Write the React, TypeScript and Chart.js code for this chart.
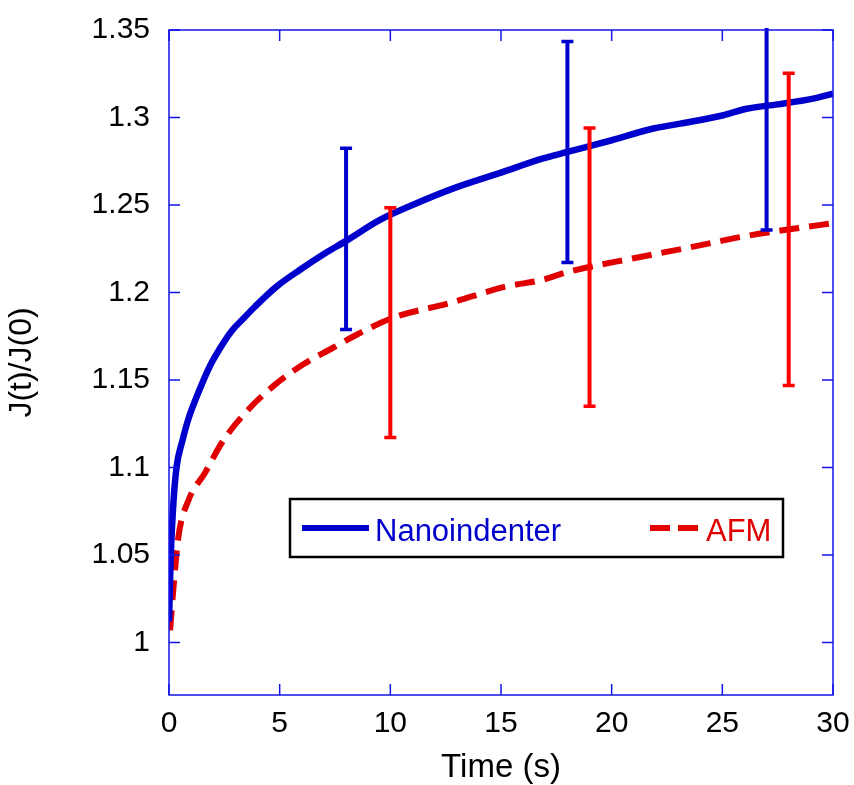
import React, { useEffect, useRef } from 'react';
import { Chart, registerables } from 'chart.js';

Chart.register(...registerables);

// ---- data ----
const nanoTime = [0, 0.08, 0.2, 0.35, 0.6, 0.87, 1.3, 1.85, 2.3, 2.83, 3.35, 3.89, 4.87, 5.92, 7, 8, 9.53, 11, 12.85, 15, 16.9, 18, 20, 21.88, 23.1, 25.05, 26.1, 27.5, 29.1, 30];
const nanoValues = [1.012, 1.05, 1.08, 1.101, 1.115, 1.1275, 1.142, 1.158, 1.168, 1.178, 1.185, 1.192, 1.2035, 1.213, 1.222, 1.2295, 1.2415, 1.25, 1.2595, 1.2685, 1.2766, 1.2803, 1.287, 1.2937, 1.2965, 1.3013, 1.305, 1.3075, 1.3108, 1.3136];

const afmTime = [0.05, 0.2, 0.42, 0.87, 1.63, 2.38, 3.43, 4.71, 6.07, 7.35, 8.5, 10.1, 12.7, 15.25, 16.8, 18.1, 21, 23.7, 25.95, 28.36, 30];
const afmValues = [1.007, 1.031, 1.06, 1.081, 1.097, 1.114, 1.131, 1.1465, 1.159, 1.168, 1.176, 1.1855, 1.194, 1.2035, 1.207, 1.212, 1.2196, 1.2262, 1.232, 1.2367, 1.2396];

const nanoErrTime = [8, 18, 27];
const nanoErrLow = [1.1788, 1.2171, 1.2357];
const nanoErrHigh = [1.2825, 1.3434, 1.376];

const afmErrTime = [10, 19, 28];
const afmErrLow = [1.1171, 1.135, 1.1469];
const afmErrHigh = [1.2485, 1.294, 1.3253];

const xTicks = [0, 5, 10, 15, 20, 25, 30];
const yTicks = [1, 1.05, 1.1, 1.15, 1.2, 1.25, 1.3, 1.35];

const seriesLabels = ['Nanoindenter', 'AFM'];
const xTitle = 'Time (s)';
const yTitle = 'J(t)/J(0)';

// ---- styles ----
const FONT = "'Liberation Sans', Arial, Helvetica, sans-serif";
const BLUE = '#0000CC';
const RED_LINE = '#E00000';
const RED_BAR = '#FF0000';
const FRAME = '#1414E6';

const errorBarPlugin = {
  id: 'errorBars',
  afterDatasetsDraw(chart: any) {
    const { ctx, chartArea, scales } = chart;
    const x = scales.x;
    const y = scales.y;
    ctx.save();
    ctx.beginPath();
    ctx.rect(chartArea.left, chartArea.top - 2, chartArea.right - chartArea.left, chartArea.bottom - chartArea.top + 2);
    ctx.clip();
    const drawSet = (ts: number[], lo: number[], hi: number[], color: string) => {
      ctx.strokeStyle = color;
      ctx.lineCap = 'butt';
      ts.forEach((t, i) => {
        const px = x.getPixelForValue(t);
        const pl = y.getPixelForValue(lo[i]);
        const ph = y.getPixelForValue(hi[i]);
        ctx.lineWidth = 4;
        ctx.beginPath();
        ctx.moveTo(px, pl);
        ctx.lineTo(px, ph);
        ctx.stroke();
        ctx.lineWidth = 3.5;
        ctx.beginPath();
        ctx.moveTo(px - 6, pl);
        ctx.lineTo(px + 6, pl);
        ctx.moveTo(px - 6, ph);
        ctx.lineTo(px + 6, ph);
        ctx.stroke();
      });
    };
    drawSet(nanoErrTime, nanoErrLow, nanoErrHigh, BLUE);
    drawSet(afmErrTime, afmErrLow, afmErrHigh, RED_BAR);
    ctx.restore();
  },
};

const framePlugin = {
  id: 'frame',
  afterDraw(chart: any) {
    const { ctx, chartArea, scales } = chart;
    const x = scales.x;
    const y = scales.y;
    const { left, right, top, bottom } = chartArea;
    const tl = 11;
    ctx.save();
    ctx.strokeStyle = FRAME;
    ctx.lineWidth = 1.5;
    ctx.strokeRect(left, top, right - left, bottom - top);
    ctx.beginPath();
    xTicks.forEach((v) => {
      const px = x.getPixelForValue(v);
      ctx.moveTo(px, bottom);
      ctx.lineTo(px, bottom - tl);
      ctx.moveTo(px, top);
      ctx.lineTo(px, top + tl);
    });
    yTicks.forEach((v) => {
      const py = y.getPixelForValue(v);
      ctx.moveTo(left, py);
      ctx.lineTo(left + tl, py);
      ctx.moveTo(right, py);
      ctx.lineTo(right - tl, py);
    });
    ctx.stroke();

    // legend box
    const lx = left + 121;
    const ly = top + 469;
    const lw = 493;
    const lh = 58;
    ctx.fillStyle = '#FFFFFF';
    ctx.fillRect(lx, ly, lw, lh);
    ctx.strokeStyle = '#000000';
    ctx.lineWidth = 2.5;
    ctx.strokeRect(lx, ly, lw, lh);
    const midY = ly + lh / 2;
    ctx.lineCap = 'butt';
    ctx.strokeStyle = BLUE;
    ctx.lineWidth = 6;
    ctx.beginPath();
    ctx.moveTo(lx + 12, midY);
    ctx.lineTo(lx + 79, midY);
    ctx.stroke();
    ctx.font = `31px ${FONT}`;
    ctx.textBaseline = 'alphabetic';
    ctx.textAlign = 'left';
    ctx.fillStyle = BLUE;
    ctx.fillText(seriesLabels[0], lx + 85, ly + 42);
    ctx.strokeStyle = RED_LINE;
    ctx.setLineDash([20, 8]);
    ctx.beginPath();
    ctx.moveTo(lx + 360, midY);
    ctx.lineTo(lx + 409, midY);
    ctx.stroke();
    ctx.setLineDash([]);
    ctx.fillStyle = RED_LINE;
    ctx.fillText(seriesLabels[1], lx + 416, ly + 42);
    ctx.restore();
  },
};

const zeroPadding = (scale: any) => {
  scale.paddingTop = 0;
  scale.paddingBottom = 0;
  scale.paddingLeft = 0;
  scale.paddingRight = 0;
};

export default function App() {
  const canvasRef = useRef<HTMLCanvasElement | null>(null);

  useEffect(() => {
    const canvas = canvasRef.current;
    if (!canvas) return;
    Chart.defaults.font.family = FONT;
    Chart.defaults.color = '#000000';
    const chart = new Chart(canvas, {
      type: 'line',
      data: {
        datasets: [
          {
            label: seriesLabels[0],
            data: nanoTime.map((t, i) => ({ x: t, y: nanoValues[i] })),
            borderColor: BLUE,
            borderWidth: 6.5,
            pointRadius: 0,
            fill: false,
            cubicInterpolationMode: 'monotone',
          },
          {
            label: seriesLabels[1],
            data: afmTime.map((t, i) => ({ x: t, y: afmValues[i] })),
            borderColor: RED_LINE,
            borderWidth: 6,
            borderDash: [20, 10],
            borderCapStyle: 'butt',
            pointRadius: 0,
            fill: false,
            cubicInterpolationMode: 'monotone',
          },
        ],
      },
      options: {
        responsive: false,
        animation: false,
        events: [],
        layout: { autoPadding: false, padding: { left: 0, top: 30, right: 21, bottom: 0 } },
        plugins: {
          legend: { display: false },
          tooltip: { enabled: false },
        },
        scales: {
          x: {
            type: 'linear',
            min: 0,
            max: 30,
            grid: { display: false, drawTicks: false },
            border: { display: false },
            afterBuildTicks: (scale: any) => {
              scale.ticks = xTicks.map((v) => ({ value: v }));
            },
            afterFit: (scale: any) => {
              scale.height = 90;
              zeroPadding(scale);
            },
            ticks: {
              padding: 11,
              font: { size: 30, family: FONT },
              color: '#000000',
              maxRotation: 0,
              callback: (v: any) => String(v),
            },
            title: {
              display: true,
              text: xTitle,
              font: { size: 33, family: FONT },
              color: '#000000',
              padding: { top: 0, bottom: -3 },
            },
          },
          y: {
            type: 'linear',
            min: 0.97,
            max: 1.35,
            grid: { display: false, drawTicks: false },
            border: { display: false },
            afterBuildTicks: (scale: any) => {
              scale.ticks = yTicks.map((v) => ({ value: v }));
            },
            afterFit: (scale: any) => {
              scale.width = 169;
              zeroPadding(scale);
            },
            ticks: {
              padding: 19,
              font: { size: 30, family: FONT },
              color: '#000000',
              callback: (v: any) => String(parseFloat(Number(v).toFixed(2))),
            },
            title: {
              display: true,
              text: yTitle,
              font: { size: 32, family: FONT },
              color: '#000000',
              padding: { top: 3, bottom: 0 },
            },
          },
        },
      } as any,
      plugins: [errorBarPlugin, framePlugin],
    });
    return () => chart.destroy();
  }, []);

  return (
    <div style={{ position: 'absolute', left: 0, top: 0, width: 854, height: 785, background: '#fff' }}>
      <canvas ref={canvasRef} width={854} height={785} style={{ display: 'block' }} />
    </div>
  );
}
